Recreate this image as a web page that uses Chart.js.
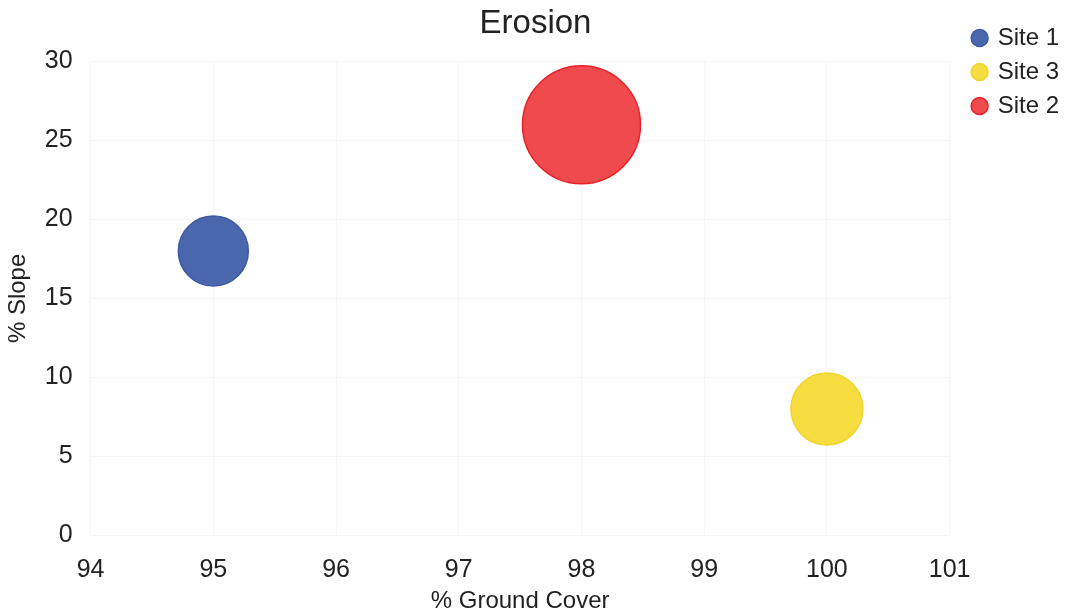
<!DOCTYPE html>
<html lang="en">
<head>
  <meta charset="UTF-8" />
  <title>Erosion</title>
  <script src="https://cdn.jsdelivr.net/npm/chart.js"></script>
  <style>
    html, body { margin: 0; padding: 0; background: #fff; }
    #wrap { width: 1070px; height: 616px; }
  </style>
</head>
<body>
  <div id="wrap"><canvas id="erosionChart"></canvas></div>

  <script>
    // series, in legend order
    const siteNames = ['Site 1', 'Site 3', 'Site 2'];
    const groundCover = [95, 100, 98];   // % Ground Cover (x)
    const slope = [18, 8, 26];           // % Slope (y)
    const bubbleSize = [35, 36, 59];     // radius in px
    const fills = ['#4a67ae', '#f6dc3e', '#ef4a4d'];
    const edges = ['#3d5aa3', '#f0d52e', '#e8212a'];

    const xTicks = [94, 95, 96, 97, 98, 99, 100, 101];
    const yTicks = [0, 5, 10, 15, 20, 25, 30];

    const font = 'Liberation Sans, Arial, Helvetica, sans-serif';

    // leave a gap between plot and legend, and drop the legend a bit
    const LEGEND_GAP = 14;
    const LEGEND_DROP = 14;
    const legendNudge = {
      id: 'legendNudge',
      afterInit(chart) {
        const lg = chart.legend;
        if (!lg) return;
        const fit = lg.fit.bind(lg);
        const draw = lg.draw.bind(lg);
        lg.fit = function () { fit(); this.width += LEGEND_GAP; };
        lg.draw = function () {
          this.left += LEGEND_GAP; this.top += LEGEND_DROP;
          draw();
          this.left -= LEGEND_GAP; this.top -= LEGEND_DROP;
        };
      }
    };

    const datasets = siteNames.map((name, i) => ({
      label: name,
      data: [{ x: groundCover[i], y: slope[i], r: bubbleSize[i] }],
      backgroundColor: fills[i],
      borderColor: edges[i],
      borderWidth: 1.5
    }));

    new Chart(document.getElementById('erosionChart'), {
      type: 'bubble',
      data: { datasets: datasets },
      plugins: [legendNudge],
      options: {
        responsive: true,
        maintainAspectRatio: false,
        animation: false,
        layout: { padding: { left: 2, right: 1, top: 2, bottom: 0 } },
        plugins: {
          title: {
            display: true,
            text: 'Erosion',
            color: '#222',
            font: { family: font, size: 33, weight: 'normal' },
            padding: { top: 2, bottom: 18 }
          },
          legend: {
            position: 'right',
            align: 'start',
            labels: {
              usePointStyle: true,
              pointStyle: 'circle',
              boxWidth: 12,
              boxHeight: 12,
              padding: 10,
              color: '#222',
              font: { family: font, size: 24 }
            }
          },
          tooltip: { enabled: false }
        },
        scales: {
          x: {
            type: 'linear',
            min: xTicks[0],
            max: xTicks[xTicks.length - 1],
            afterBuildTicks: axis => { axis.ticks = xTicks.map(v => ({ value: v })); },
            grid: { color: 'rgba(0,0,0,0.035)', drawTicks: false },
            border: { display: false },
            ticks: { color: '#222', padding: 20, font: { family: font, size: 25 } },
            title: {
              display: true,
              text: '% Ground Cover',
              color: '#222',
              padding: { top: -18, bottom: 0 },
              font: { family: font, size: 24 }
            }
          },
          y: {
            min: yTicks[0],
            max: yTicks[yTicks.length - 1],
            afterBuildTicks: axis => { axis.ticks = yTicks.map(v => ({ value: v })); },
            grid: { color: 'rgba(0,0,0,0.035)', drawTicks: false },
            border: { display: false },
            ticks: { color: '#222', padding: 18, font: { family: font, size: 25 } },
            title: {
              display: true,
              text: '% Slope',
              color: '#222',
              padding: { top: 2, bottom: -6 },
              font: { family: font, size: 24 }
            }
          }
        }
      }
    });
  </script>
</body>
</html>
